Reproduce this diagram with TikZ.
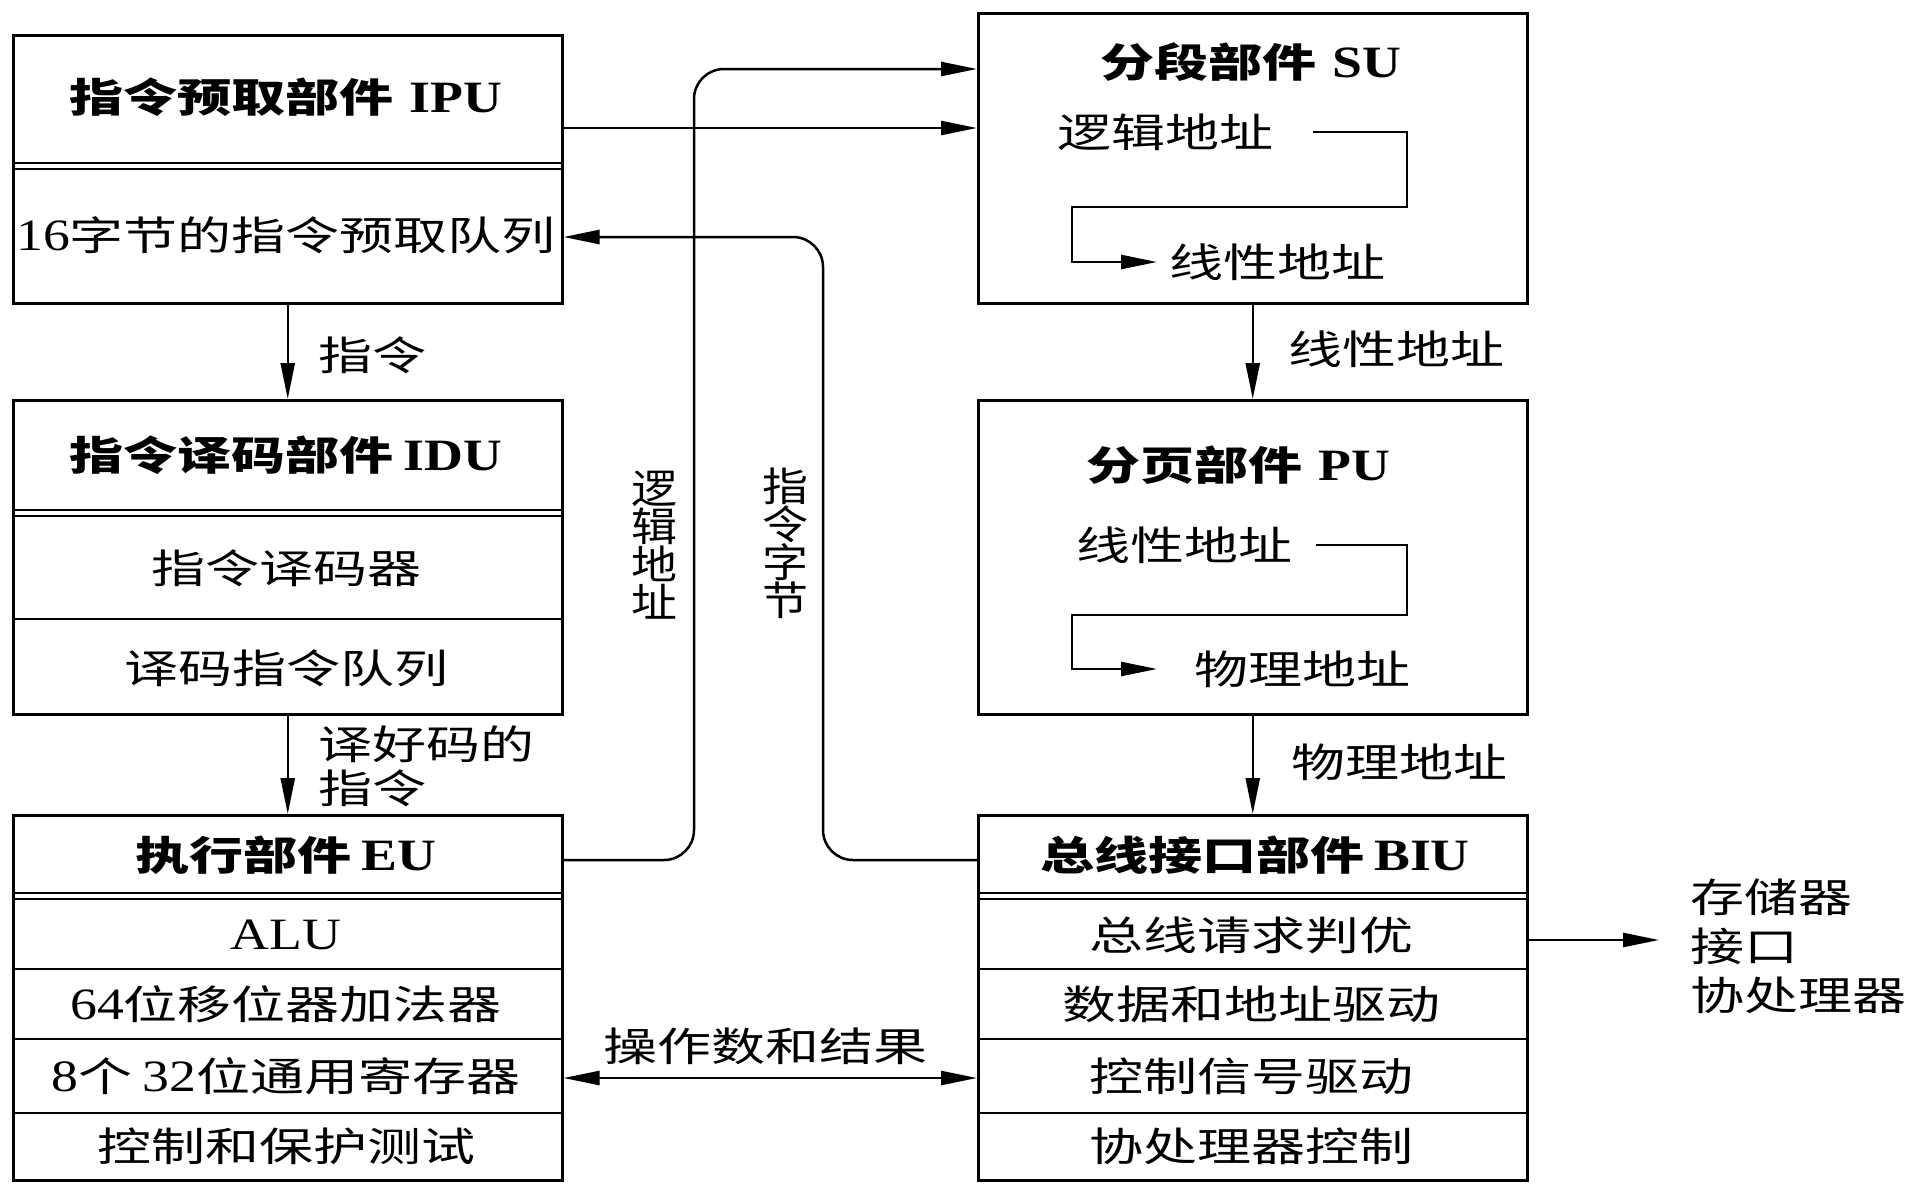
\documentclass[tikz,border=0pt]{standalone}
\usepackage{fontspec}
\setmainfont[FakeStretch=1.2,Scale=1.12]{Liberation Serif}
\newfontfamily\zh[FakeStretch=1.35]{Noto Sans CJK SC}
\newfontfamily\zhv[FakeStretch=1.15]{Noto Sans CJK SC}
\usetikzlibrary{arrows.meta}
\begin{document}
\begin{tikzpicture}[x=1pt,y=-1pt,
  box/.style={draw,line width=2.5pt,minimum width=549pt,anchor=north west,inner sep=0pt},
  conn/.style={line width=2.5pt},
  tipA/.tip={Triangle[length=36pt,width=14pt]},
  arr/.style={conn,-tipA},
  dblarr/.style={conn,tipA-tipA},
  rc/.style={rounded corners=30pt},
  txt/.style={font=\fontsize{40}{44}\selectfont\zh, inner sep=0pt},
  ttl/.style={font=\fontsize{40}{44}\selectfont\zh\bfseries, inner sep=0pt},
  vlbl/.style={font=\fontsize{40}{38}\selectfont\zhv, align=center, inner sep=0pt},
  sep/.style={line width=2.5pt},
]
\useasboundingbox (0,0) rectangle (1920,1192);
\fill[white] (0,0) rectangle (1920,1192);

% ---------- IPU ----------
\node[box, minimum height=268pt] (ipu) at (12,34) {};
\draw[sep] (12,163) -- (561,163) (12,169) -- (561,169);
\node[ttl] (ipuT) at (286,97) {指令预取部件\hspace{16pt}{\rmfamily IPU}};
\node[txt] (ipuQ) at (286,235) {{\rmfamily 16}字节的指令预取队列};

% ---------- IDU ----------
\node[box, minimum height=314pt] (idu) at (12,399) {};
\draw[sep] (12,510) -- (561,510) (12,516) -- (561,516);
\draw[sep] (12,619) -- (561,619);
\node[ttl] (iduT) at (286,455) {指令译码部件\hspace{10pt}{\rmfamily IDU}};
\node[txt] (iduD) at (286,568) {指令译码器};
\node[txt] (iduQ) at (286,668) {译码指令队列};

% ---------- EU ----------
\node[box, minimum height=365pt] (eu) at (12,814) {};
\draw[sep] (12,893) -- (561,893) (12,899) -- (561,899);
\draw[sep] (12,969) -- (561,969) (12,1039) -- (561,1039) (12,1113) -- (561,1113);
\node[ttl] (euT) at (286,855) {执行部件\hspace{10pt}{\rmfamily EU}};
\node[txt] (euA) at (286,935) {\rmfamily ALU};
\node[txt] (euS) at (286,1004) {{\rmfamily 64}位移位器加法器};
\node[txt] (euR) at (286,1076) {{\rmfamily 8}个\hspace{10pt}{\rmfamily 32}位通用寄存器};
\node[txt] (euC) at (286,1146) {控制和保护测试};

% ---------- SU ----------
\node[box, minimum height=290pt] (su) at (977,12) {};
\node[ttl] (suT) at (1251,62) {分段部件\hspace{16pt}{\rmfamily SU}};
\node[txt, anchor=west] (suLog) at (1057,132) {逻辑地址};
\node[txt, anchor=west] (suLin) at (1169,262) {线性地址};
\draw[arr] ([xshift=40pt]suLog.east) -- (1407,132) -- (1407,207) -- (1072,207) |- ([xshift=-12pt]suLin.west);

% ---------- PU ----------
\node[box, minimum height=314pt] (pu) at (977,399) {};
\node[ttl] (puT) at (1238,465) {分页部件\hspace{16pt}{\rmfamily PU}};
\node[txt, anchor=west] (puLin) at (1076,545) {线性地址};
\node[txt, anchor=west] (puPhy) at (1194,669) {物理地址};
\draw[arr] ([xshift=24pt]puLin.east) -- (1407,545) -- (1407,615) -- (1072,615) |- ([xshift=-37pt]puPhy.west);

% ---------- BIU ----------
\node[box, minimum height=365pt] (biu) at (977,814) {};
\draw[sep] (977,893) -- (1526,893) (977,899) -- (1526,899);
\draw[sep] (977,969) -- (1526,969) (977,1039) -- (1526,1039) (977,1113) -- (1526,1113);
\node[ttl] (biuT) at (1255,855) {总线接口部件\hspace{10pt}{\rmfamily BIU}};
\node[txt] (biuA) at (1251,935) {总线请求判优};
\node[txt] (biuD) at (1251,1004) {数据和地址驱动};
\node[txt] (biuC) at (1251,1076) {控制信号驱动};
\node[txt] (biuP) at (1251,1146) {协处理器控制};

% ---------- helper coordinates ----------
\coordinate (y69) at (0,69);
\coordinate (y128) at (0,128);
\coordinate (y237) at (0,237);
\coordinate (y860) at (0,860);
\coordinate (y940) at (0,940);
\coordinate (y1078) at (0,1078);
\coordinate (memin) at (1659,940);

% ---------- connectors ----------
\draw[arr] (ipu.south) -- (idu.north);
\node[txt, anchor=west] (lblI) at (318,355) {指令};
\draw[arr] (idu.south) -- (eu.north);
\node[txt, anchor=west, align=left, font=\fontsize{40}{44}\selectfont\zh] (lblD) at (318,766) {译好码的\\指令};

\draw[arr] (su.south) -- (pu.north);
\node[txt, anchor=west] (lblL) at (1288,349) {线性地址};
\draw[arr] (pu.south) -- (biu.north);
\node[txt, anchor=west] (lblP) at (1291,762) {物理地址};

\draw[arr] (ipu.east |- y128) -- (su.west |- y128);
\draw[arr, rc] (eu.east |- y860) -- (694,860) -- (694,69) -- (su.west |- y69);
\node[vlbl] (lblLA) at (654,545) {逻\\辑\\地\\址};
\draw[arr, rc] (biu.west |- y860) -- (823,860) -- (823,237) -- (ipu.east |- y237);
\node[vlbl] (lblIB) at (785,543) {指\\令\\字\\节};

\draw[dblarr] (eu.east |- y1078) -- (biu.west |- y1078);
\node[txt] (lblOp) at (765,1046) {操作数和结果};

\draw[arr] (biu.east |- y940) -- (memin);
\node[txt, anchor=west, align=left, font=\fontsize{40}{49}\selectfont\zh] (mem) at (1690,946) {存储器\\接口\\协处理器};
\end{tikzpicture}
\end{document}
